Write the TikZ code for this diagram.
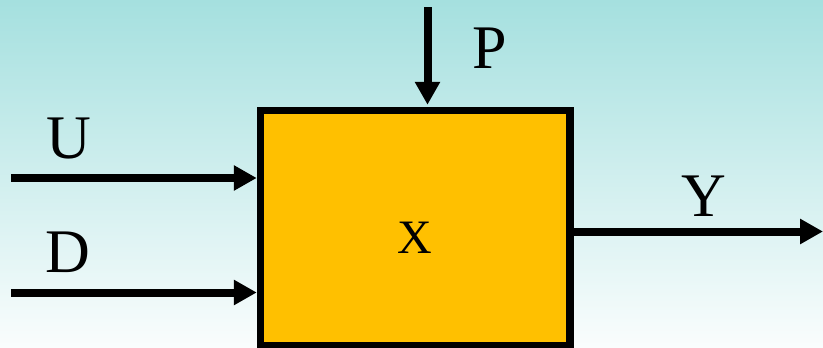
\documentclass[tikz,border=0pt]{standalone}
\usepackage{fontspec}
\setmainfont{Liberation Serif}
\usepackage{xcolor}
\usetikzlibrary{arrows.meta,positioning}

\definecolor{bgtop}{RGB}{165,224,223}
\definecolor{bgbottom}{RGB}{250,253,253}
\definecolor{boxorange}{RGB}{255,192,0}

\begin{document}
\begin{tikzpicture}[
  x=1pt, y=-1pt,
  >={Triangle[length=23pt,width=24pt]},
  block/.style={rectangle, draw, line width=7.5pt, fill=boxorange,
    minimum width=309.5pt, minimum height=235pt, inner sep=0pt},
  signal/.style={->, line width=8pt},
  sym/.style={font=\fontsize{62}{62}\selectfont, inner sep=0pt},
]

% Background
\shade[top color=bgtop, bottom color=bgbottom] (0,0) rectangle (823,348);
\useasboundingbox (0,0) rectangle (823,348);

% System block
\node[block] (plant) at (415.25,228) {};
\node[sym, font=\fontsize{48}{48}\selectfont] (xlab) at (415,238) {X};

% Signal ends
\coordinate (uin) at (11,178);
\coordinate (din) at (11,292.5);
\coordinate (pin) at (427.5,7);
\coordinate (yout) at (823,231.5);

% Inputs and output
\draw[signal] (uin) -- (uin -| plant.west);
\draw[signal] (din) -- (din -| plant.west);
\draw[signal, shorten >=2pt] (pin) -- (pin |- plant.north);
\draw[signal] (yout -| plant.east) -- (yout);

% Signal labels
\node[sym] (ulab) at (68.5,138.5) {U};
\node[sym] (dlab) at (68,252) {D};
\node[sym] (plab) at (490,48.5) {P};
\node[sym] (ylab) at (704,196.5) {Y};

\end{tikzpicture}
\end{document}
